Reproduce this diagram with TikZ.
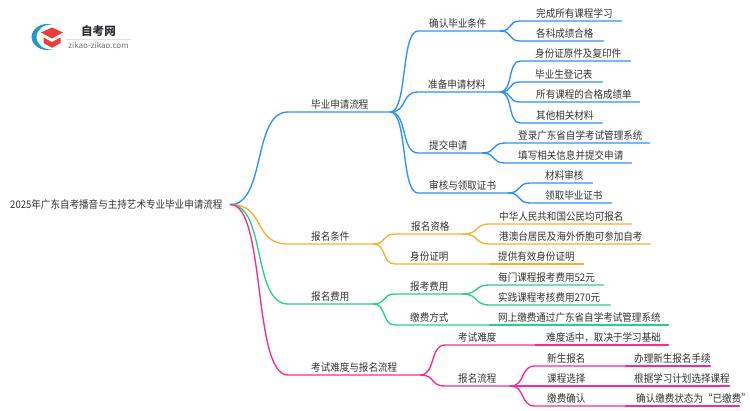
\documentclass[tikz,border=0pt]{standalone}
\usepackage{fontspec}
\setmainfont[FakeStretch=0.91]{Noto Sans CJK SC}
\newfontfamily\logofont{Noto Sans CJK SC}
\usetikzlibrary{calc}
\definecolor{cblue}{HTML}{2E90FF}
\definecolor{corange}{HTML}{FAAF2E}
\definecolor{cgreen}{HTML}{2ACF88}
\definecolor{cpink}{HTML}{FF2A8C}
\definecolor{ctext}{HTML}{333333}
\definecolor{logoblue}{RGB}{30,150,215}
\definecolor{logored}{RGB}{235,60,55}
\tikzset{
  bn/.style={inner xsep=0pt,inner ysep=2.3pt,align=left,anchor=south west,text=ctext,font=\fontsize{10.5}{12}\selectfont},
  wire/.style={line width=1.35pt,line cap=round},
}
\newcommand\bn[6]{%
  \pgfmathsetmacro\bnw{#3-#2}%
  \node[bn,text width=\bnw pt] (#1) at (#2,#4) {\hspace*{#5pt}#6};}
\newcommand\lk[3]{%
  \draw[wire,#1] let \p1=(#2),\p2=(#3.south west),\n1={(\x2-\x1)*0.62} in
    (\p1) .. controls ($(\p1)+(\n1,0)$) and ($(\p2)-(\n1,0)$) .. (\p2) -- (#3.south east);}
\newcommand\st[3]{\draw[wire,#1] (#2.south east) -- (#3.south west) -- (#3.south east);}
\begin{document}
\begin{tikzpicture}[x=1pt,y=-1pt]
\useasboundingbox (0,0) rectangle (750,410);
% logo
\path[fill=logoblue]
  (52,24.5) .. controls (42,22) and (32,28) .. (31.5,37)
  .. controls (32,46) and (42,52) .. (52,49.5)
  .. controls (44,50) and (36.5,45) .. (36.5,37)
  .. controls (36.5,29) and (44,24) .. (52,24.5) -- cycle;
\path[fill=logored]
  (41,32.5) -- (52,27.5) -- (63,32.5) -- (52,38.5) -- cycle;
\path[fill=logored]
  (43.5,37.5) -- (52,42) -- (60.5,37.5) -- (60.5,43) -- (52,47.7) -- (43.5,43) -- cycle;
\node[inner sep=0pt,text={rgb,255:red,45;green,45;blue,50},font=\logofont\fontsize{11.6}{13}\selectfont\bfseries] (logot) at (98.5,31) {自考网};
\draw[line width=0.5pt,color=black!12] (66,39.3) -- (131,39.3);
\node[inner sep=0pt,text=black!55,font=\logofont\fontsize{8}{9}\selectfont] (logou) at (98.5,45) {zikao-zikao.com};
% root
\node[inner sep=0pt,text width=220pt,align=left,anchor=west,text=ctext,font=\fontsize{10.5}{12}\selectfont] (root) at (10,204.5) {2025年广东自考播音与主持艺术专业毕业申请流程};
% blue
\bn{a}{288}{390}{112}{23}{毕业申请流程}
\bn{a1}{418}{500}{31}{11}{确认毕业条件}
\bn{a11}{520}{621}{21}{16}{完成所有课程学习}
\bn{a12}{520}{603}{41}{16}{各科成绩合格}
\bn{a2}{418}{500}{92}{10}{准备申请材料}
\bn{a21}{520}{630}{61}{15}{身份证原件及复印件}
\bn{a22}{520}{602}{82}{15}{毕业生登记表}
\bn{a23}{520}{639}{102}{16}{所有课程的合格成绩单}
\bn{a24}{520}{602}{123}{16}{其他相关材料}
\bn{a3}{418}{482}{153}{11}{提交申请}
\bn{a31}{505}{649}{143}{13}{登录广东省自学考试管理系统}
\bn{a32}{505}{631}{163}{13}{填写相关信息并提交申请}
\bn{a4}{418}{508}{193}{11}{审核与领取证书}
\bn{a41}{530}{592}{183}{15}{材料审核}
\bn{a42}{530}{611}{203}{15}{领取毕业证书}
% orange
\bn{b}{288}{373}{244}{23}{报名条件}
\bn{b1}{395}{463}{234}{16}{报名资格}
\bn{b11}{490}{631}{224}{9}{中华人民共和国公民均可报名}
\bn{b12}{490}{650}{244}{9}{港澳台居民及海外侨胞可参加自考}
\bn{b2}{395}{489}{264}{15}{身份证明}
\bn{b21}{489}{583}{264}{9}{提供有效身份证明}
% green
\bn{c}{288}{373}{304}{23}{报名费用}
\bn{c1}{395}{462}{294}{15}{报考费用}
\bn{c11}{490}{603}{285}{8}{每门课程报考费用52元}
\bn{c12}{490}{610}{305}{8}{实践课程考核费用270元}
\bn{c2}{395}{489}{325}{15}{缴费方式}
\bn{c21}{489}{668}{325}{9}{网上缴费通过广东省自学考试管理系统}
% pink
\bn{d}{288}{420}{375}{23}{考试难度与报名流程}
\bn{d1}{445}{535}{345}{13}{考试难度}
\bn{d11}{535}{668}{345}{11}{难度适中，取决于学习基础}
\bn{d2}{445}{510}{386}{13}{报名流程}
\bn{d21}{535}{625}{366}{12}{新生报名}
\bn{d211}{625}{710}{366}{9}{办理新生报名手续}
\bn{d22}{535}{625}{386}{12}{课程选择}
\bn{d221}{625}{729}{386}{9}{根据学习计划选择课程}
\bn{d23}{535}{625}{406}{12}{缴费确认}
\bn{d231}{625}{739}{406}{11}{确认缴费状态为“已缴费”}
% connectors
\lk{cblue}{root.east}{a}
\foreach \kid in {a1,a2,a3,a4}{\lk{cblue}{a.south east}{\kid}}
\foreach \kid in {a11,a12}{\lk{cblue}{a1.south east}{\kid}}
\foreach \kid in {a21,a22,a23,a24}{\lk{cblue}{a2.south east}{\kid}}
\foreach \kid in {a31,a32}{\lk{cblue}{a3.south east}{\kid}}
\foreach \kid in {a41,a42}{\lk{cblue}{a4.south east}{\kid}}
\lk{corange}{root.east}{b}
\foreach \kid in {b1,b2}{\lk{corange}{b.south east}{\kid}}
\foreach \kid in {b11,b12}{\lk{corange}{b1.south east}{\kid}}
\st{corange}{b2}{b21}
\lk{cgreen}{root.east}{c}
\foreach \kid in {c1,c2}{\lk{cgreen}{c.south east}{\kid}}
\foreach \kid in {c11,c12}{\lk{cgreen}{c1.south east}{\kid}}
\st{cgreen}{c2}{c21}
\lk{cpink}{root.east}{d}
\foreach \kid in {d1,d2}{\lk{cpink}{d.south east}{\kid}}
\st{cpink}{d1}{d11}
\foreach \kid in {d21,d22,d23}{\lk{cpink}{d2.south east}{\kid}}
\st{cpink}{d21}{d211}
\st{cpink}{d22}{d221}
\st{cpink}{d23}{d231}
\end{tikzpicture}
\end{document}
